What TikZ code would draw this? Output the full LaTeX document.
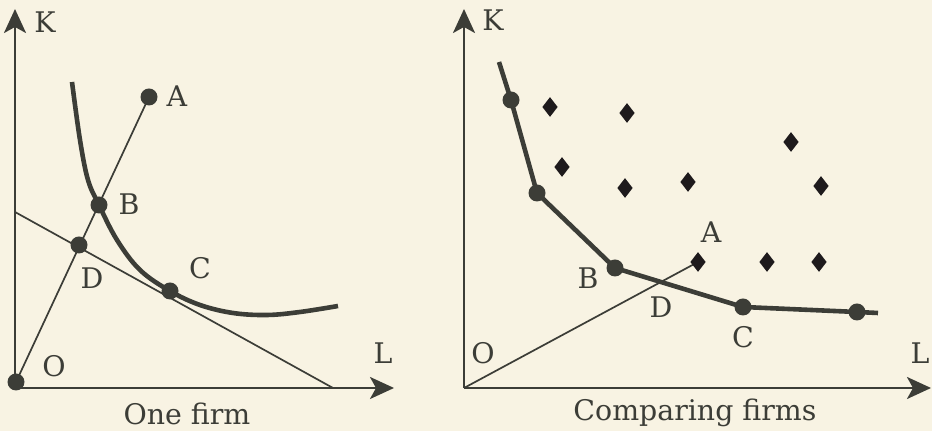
\documentclass[tikz,border=0pt]{standalone}
\usepackage{fontspec}
\setmainfont{DejaVu Serif}
\usetikzlibrary{arrows.meta, shapes.geometric}

\definecolor{paper}{HTML}{F8F3E3}
\definecolor{ink}{HTML}{3C3D37}
\definecolor{mark}{HTML}{1E1A1C}

\tikzset{
    axis/.style={draw=ink, line width=1.2pt,
        -{Stealth[length=12pt, width=11pt, inset=3pt]}},
    ray/.style={draw=ink, line width=0.85pt},
    isoquant/.style={draw=ink, line width=2.3pt, line join=round},
    dot/.style={circle, fill=ink, inner sep=0pt, minimum size=8.5pt},
    firm/.style={diamond, fill=mark, inner sep=0pt,
        minimum width=7.8pt, minimum height=10pt},
    lbl/.style={text=ink, inner sep=0pt, font=\fontsize{14.2}{17}\selectfont}
}

\begin{document}
\begin{tikzpicture}[x=0.5pt, y=-0.5pt]
    \fill[paper] (0,0) rectangle (932,431);
    \useasboundingbox (0,0) rectangle (932,431);

    % one firm
    \coordinate (O) at (15, 388);
    \coordinate (Ktop) at (15, 9);
    \coordinate (Lend) at (394, 388);
    \coordinate (A) at (149, 97);
    \coordinate (B) at (99, 205);
    \coordinate (C) at (170, 291);
    \coordinate (D) at (79, 245);
    \coordinate (P) at (15, 212);
    \coordinate (Q) at (333, 388);
    \coordinate (Z) at (16, 382);

    \draw[axis] (O) -- (Ktop);
    \draw[axis] (O) -- (Lend);
    \draw[ray] (P) -- (Q);
    \draw[ray] (Z) -- (A);
    \draw[isoquant] plot[smooth, tension=0.6] coordinates
        {(72,82) (80,140) (88,180) (B) (117,240) (140,270) (C)
         (200,305) (233,313) (267,315) (300,312) (338,306)};

    \foreach \n in {Z, A, B, C, D}
    \node[dot] (dot\n) at (\n) {};

    \node[lbl] (k1) at (45, 22) {K};
    \node[lbl] (l1) at (383, 353) {L};
    \node[lbl] (o1) at (54, 366) {O};
    \node[lbl] (a1) at (177, 96) {A};
    \node[lbl] (b1) at (129, 204) {B};
    \node[lbl] (c1) at (200, 268) {C};
    \node[lbl] (d1) at (92, 278) {D};
    \node[lbl] (t1) at (187, 414) {One firm};

    % comparing firms
    \coordinate (O') at (464, 388);
    \coordinate (K') at (464, 9);
    \coordinate (L') at (931, 388);
    \coordinate (A') at (698, 262);
    \coordinate (F1) at (511, 100);
    \coordinate (F2) at (537, 193);
    \coordinate (B') at (615, 268);
    \coordinate (C') at (743, 307);
    \coordinate (F5) at (857, 312);

    \draw[axis] (O') -- (K');
    \draw[axis] (O') -- (L');
    \draw[ray] (O') -- (A');
    \draw[isoquant] (499, 62) -- (F1) -- (F2) -- (B') -- (C')
        -- (F5) -- (878, 313);

    \foreach \n [count=\i] in {F1, F2, B', C', F5}
    \node[dot] (e\i) at (\n) {};

    \foreach \x/\y [count=\i] in {550/107, 627/113, 791/142, 562/167,
        625/188, 688/182, 821/186, 767/262, 819/262}
    \node[firm] (f\i) at (\x, \y) {};
    \node[firm] (fA) at (A') {};

    \node[lbl] (k2) at (493, 20) {K};
    \node[lbl] (l2) at (920, 353) {L};
    \node[lbl] (o2) at (483, 353) {O};
    \node[lbl] (a2) at (711, 232) {A};
    \node[lbl] (b2) at (588, 278) {B};
    \node[lbl] (c2) at (743, 337) {C};
    \node[lbl] (d2) at (661, 307) {D};
    \node[lbl] (t2) at (695, 413) {Comparing firms};
\end{tikzpicture}
\end{document}
